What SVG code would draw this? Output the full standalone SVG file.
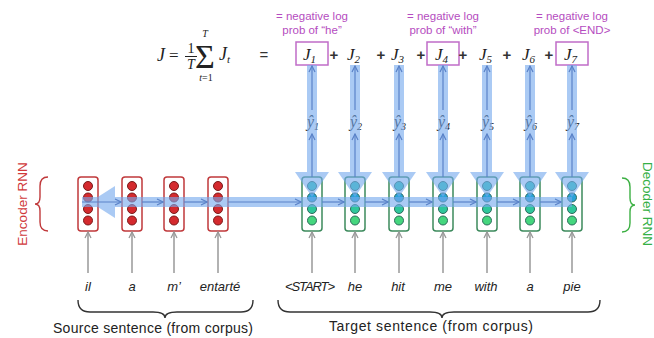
<svg xmlns="http://www.w3.org/2000/svg" width="654" height="338" viewBox="0 0 654 338">
<defs>
<style>
.sans{font-family:"Liberation Sans","Open Sans",Arial,sans-serif}
.math{font-family:"Liberation Serif","DejaVu Serif",serif;font-style:italic;fill:#222}
.mathr{font-family:"Liberation Serif","DejaVu Serif",serif;fill:#222}
.mag{font-family:"Liberation Sans","Open Sans",Arial,sans-serif;font-size:11.5px;fill:#b54cc0;text-anchor:middle}
.word{font-family:"Liberation Sans","Open Sans",Arial,sans-serif;font-style:italic;font-size:13px;fill:#222;text-anchor:middle}
.enc{fill:none;stroke:#c0393b;stroke-width:1.5}
.dec{fill:none;stroke:#3c8a5c;stroke-width:1.5}
.ec{fill:#d42a2e;stroke:#7a1a1a;stroke-width:1}
.dc{stroke:#2d6b5c;stroke-width:1}
.band{fill:#76a9ee;opacity:0.62}
.thin{stroke:#5a82c8;stroke-width:1.2;fill:none;marker-end:url(#ab)}
.gray{stroke:#999;stroke-width:1.5;fill:none;marker-end:url(#ag)}
.jbox{fill:none;stroke:#c06cc8;stroke-width:1.5}
.brace{fill:none;stroke:#333;stroke-width:1.4}
</style>
<marker id="ab" viewBox="0 0 8 8" refX="7" refY="4" markerWidth="8" markerHeight="8" orient="auto" markerUnits="userSpaceOnUse"><path d="M1,1 L7,4 L1,7" fill="none" stroke="#5a82c8" stroke-width="1.2"/></marker>
<marker id="ag" viewBox="0 0 8 8" refX="7" refY="4" markerWidth="8" markerHeight="8" orient="auto" markerUnits="userSpaceOnUse"><path d="M1,1 L7,4 L1,7" fill="none" stroke="#999" stroke-width="1.3"/></marker>
</defs>
<rect width="654" height="338" fill="#fff"/>

<!-- Equation -->
<g id="equation">
<text class="math" x="157" y="61" font-size="18">J</text>
<text class="mathr" x="169" y="61" font-size="17">=</text>
<text class="mathr" x="191" y="53" font-size="14" text-anchor="middle">1</text>
<line x1="185" y1="56.5" x2="197" y2="56.5" stroke="#222" stroke-width="1"/>
<text class="math" x="191" y="69" font-size="14" text-anchor="middle">T</text>
<text class="mathr" x="205" y="68" font-size="34" text-anchor="middle">Σ</text>
<text class="math" x="205" y="37" font-size="10" text-anchor="middle">T</text>
<text class="math" x="206" y="81" font-size="10" text-anchor="middle">t<tspan font-style="normal">=1</tspan></text>
<text class="math" x="219" y="60" font-size="18">J<tspan font-size="11" dy="3">t</tspan></text>
<text class="sans" x="264" y="60" font-size="15" text-anchor="middle" fill="#333">=</text>
</g>

<!-- J terms -->
<g id="J1"><rect class="jbox" x="296" y="42" width="32" height="23"/><text class="math" x="303" y="60" font-size="17">J<tspan font-size="11" dy="3">1</tspan></text></g>
<g id="J2"><text class="math" x="347" y="60" font-size="17">J<tspan font-size="11" dy="3">2</tspan></text></g>
<g id="J3"><text class="math" x="391" y="60" font-size="17">J<tspan font-size="11" dy="3">3</tspan></text></g>
<g id="J4"><rect class="jbox" x="427" y="42" width="32" height="23"/><text class="math" x="435" y="60" font-size="17">J<tspan font-size="11" dy="3">4</tspan></text></g>
<g id="J5"><text class="math" x="479" y="60" font-size="17">J<tspan font-size="11" dy="3">5</tspan></text></g>
<g id="J6"><text class="math" x="522" y="60" font-size="17">J<tspan font-size="11" dy="3">6</tspan></text></g>
<g id="J7"><rect class="jbox" x="556" y="42" width="32" height="23"/><text class="math" x="564" y="60" font-size="17">J<tspan font-size="11" dy="3">7</tspan></text></g>
<g id="plus" class="sans" font-size="15" font-weight="bold" fill="#333" text-anchor="middle">
<text x="334" y="60">+</text><text x="381" y="60">+</text><text x="421" y="60">+</text><text x="463" y="60">+</text><text x="507" y="60">+</text><text x="549" y="60">+</text>
</g>

<!-- magenta notes -->
<g id="note1"><text class="mag" x="312" y="20">= negative log</text><text class="mag" x="312" y="34">prob of “he”</text></g>
<g id="note4"><text class="mag" x="443" y="20">= negative log</text><text class="mag" x="443" y="34">prob of “with”</text></g>
<g id="note7"><text class="mag" x="572" y="20">= negative log</text><text class="mag" x="572" y="34">prob of &lt;END&gt;</text></g>

<!-- encoder cells -->
<g id="enc1"><rect class="enc" x="78" y="177" width="20" height="54" rx="3"/><circle class="ec" cx="88" cy="186" r="4.5"/><circle class="ec" cx="88" cy="197.5" r="4.5"/><circle class="ec" cx="88" cy="209" r="4.5"/><circle class="ec" cx="88" cy="220.5" r="4.5"/></g>
<g id="enc2"><rect class="enc" x="122" y="177" width="20" height="54" rx="3"/><circle class="ec" cx="132" cy="186" r="4.5"/><circle class="ec" cx="132" cy="197.5" r="4.5"/><circle class="ec" cx="132" cy="209" r="4.5"/><circle class="ec" cx="132" cy="220.5" r="4.5"/></g>
<g id="enc3"><rect class="enc" x="164" y="177" width="20" height="54" rx="3"/><circle class="ec" cx="174" cy="186" r="4.5"/><circle class="ec" cx="174" cy="197.5" r="4.5"/><circle class="ec" cx="174" cy="209" r="4.5"/><circle class="ec" cx="174" cy="220.5" r="4.5"/></g>
<g id="enc4"><rect class="enc" x="208" y="177" width="20" height="54" rx="3"/><circle class="ec" cx="218" cy="186" r="4.5"/><circle class="ec" cx="218" cy="197.5" r="4.5"/><circle class="ec" cx="218" cy="209" r="4.5"/><circle class="ec" cx="218" cy="220.5" r="4.5"/></g>

<!-- decoder cells -->
<g id="dec1"><rect class="dec" x="302" y="177" width="20" height="54" rx="3"/><circle class="dc" fill="#2ec4b6" cx="312" cy="186" r="4.5"/><circle class="dc" fill="#2aa3d8" cx="312" cy="197.5" r="4.5"/><circle class="dc" fill="#2fc79b" cx="312" cy="209" r="4.5"/><circle class="dc" fill="#45d67e" cx="312" cy="220.5" r="4.5"/></g>
<g id="dec2"><rect class="dec" x="345" y="177" width="20" height="54" rx="3"/><circle class="dc" fill="#2ec4b6" cx="355" cy="186" r="4.5"/><circle class="dc" fill="#2aa3d8" cx="355" cy="197.5" r="4.5"/><circle class="dc" fill="#2fc79b" cx="355" cy="209" r="4.5"/><circle class="dc" fill="#45d67e" cx="355" cy="220.5" r="4.5"/></g>
<g id="dec3"><rect class="dec" x="389" y="177" width="20" height="54" rx="3"/><circle class="dc" fill="#2ec4b6" cx="399" cy="186" r="4.5"/><circle class="dc" fill="#2aa3d8" cx="399" cy="197.5" r="4.5"/><circle class="dc" fill="#2fc79b" cx="399" cy="209" r="4.5"/><circle class="dc" fill="#45d67e" cx="399" cy="220.5" r="4.5"/></g>
<g id="dec4"><rect class="dec" x="433" y="177" width="20" height="54" rx="3"/><circle class="dc" fill="#2ec4b6" cx="443" cy="186" r="4.5"/><circle class="dc" fill="#2aa3d8" cx="443" cy="197.5" r="4.5"/><circle class="dc" fill="#2fc79b" cx="443" cy="209" r="4.5"/><circle class="dc" fill="#45d67e" cx="443" cy="220.5" r="4.5"/></g>
<g id="dec5"><rect class="dec" x="477" y="177" width="20" height="54" rx="3"/><circle class="dc" fill="#2ec4b6" cx="487" cy="186" r="4.5"/><circle class="dc" fill="#2aa3d8" cx="487" cy="197.5" r="4.5"/><circle class="dc" fill="#2fc79b" cx="487" cy="209" r="4.5"/><circle class="dc" fill="#45d67e" cx="487" cy="220.5" r="4.5"/></g>
<g id="dec6"><rect class="dec" x="520" y="177" width="20" height="54" rx="3"/><circle class="dc" fill="#2ec4b6" cx="530" cy="186" r="4.5"/><circle class="dc" fill="#2aa3d8" cx="530" cy="197.5" r="4.5"/><circle class="dc" fill="#2fc79b" cx="530" cy="209" r="4.5"/><circle class="dc" fill="#45d67e" cx="530" cy="220.5" r="4.5"/></g>
<g id="dec7"><rect class="dec" x="562" y="177" width="20" height="54" rx="3"/><circle class="dc" fill="#2ec4b6" cx="572" cy="186" r="4.5"/><circle class="dc" fill="#2aa3d8" cx="572" cy="197.5" r="4.5"/><circle class="dc" fill="#2fc79b" cx="572" cy="209" r="4.5"/><circle class="dc" fill="#45d67e" cx="572" cy="220.5" r="4.5"/></g>

<!-- y-hat labels -->
<g id="yhats" class="math" font-size="16">
<text x="307" y="127">ŷ<tspan font-size="10" dy="3">1</tspan></text>
<text x="350" y="127">ŷ<tspan font-size="10" dy="3">2</tspan></text>
<text x="394" y="127">ŷ<tspan font-size="10" dy="3">3</tspan></text>
<text x="438" y="127">ŷ<tspan font-size="10" dy="3">4</tspan></text>
<text x="482" y="127">ŷ<tspan font-size="10" dy="3">5</tspan></text>
<text x="525" y="127">ŷ<tspan font-size="10" dy="3">6</tspan></text>
<text x="567" y="127">ŷ<tspan font-size="10" dy="3">7</tspan></text>
</g>

<!-- connectors -->
<g id="connectors">
<path class="band" d="M82,197 H97.8 L115,186 V197 H572 V207 H115 V218 L97.8,207 H82 Z"/>
<path class="band" d="M307,65 H317 V172 H329 L312,197 L295,172 H307 Z"/>
<path class="band" d="M350,65 H360 V172 H372 L355,197 L338,172 H350 Z"/>
<path class="band" d="M394,65 H404 V172 H416 L399,197 L382,172 H394 Z"/>
<path class="band" d="M438,65 H448 V172 H460 L443,197 L426,172 H438 Z"/>
<path class="band" d="M482,65 H492 V172 H504 L487,197 L470,172 H482 Z"/>
<path class="band" d="M525,65 H535 V172 H547 L530,197 L513,172 H525 Z"/>
<path class="band" d="M567,65 H577 V172 H589 L572,197 L555,172 H567 Z"/>
<line class="thin" x1="82" y1="202" x2="121" y2="202"/>
<line class="thin" x1="142" y1="202" x2="163" y2="202"/>
<line class="thin" x1="184" y1="202" x2="207" y2="202"/>
<line class="thin" x1="228" y1="202" x2="301" y2="202"/>
<line class="thin" x1="322" y1="202" x2="344" y2="202"/>
<line class="thin" x1="365" y1="202" x2="388" y2="202"/>
<line class="thin" x1="409" y1="202" x2="432" y2="202"/>
<line class="thin" x1="453" y1="202" x2="476" y2="202"/>
<line class="thin" x1="497" y1="202" x2="519" y2="202"/>
<line class="thin" x1="540" y1="202" x2="561" y2="202"/>
<line class="thin" x1="312" y1="177" x2="312" y2="134"/><line class="thin" x1="312" y1="110" x2="312" y2="66"/>
<line class="thin" x1="355" y1="177" x2="355" y2="134"/><line class="thin" x1="355" y1="110" x2="355" y2="66"/>
<line class="thin" x1="399" y1="177" x2="399" y2="134"/><line class="thin" x1="399" y1="110" x2="399" y2="66"/>
<line class="thin" x1="443" y1="177" x2="443" y2="134"/><line class="thin" x1="443" y1="110" x2="443" y2="66"/>
<line class="thin" x1="487" y1="177" x2="487" y2="134"/><line class="thin" x1="487" y1="110" x2="487" y2="66"/>
<line class="thin" x1="530" y1="177" x2="530" y2="134"/><line class="thin" x1="530" y1="110" x2="530" y2="66"/>
<line class="thin" x1="572" y1="177" x2="572" y2="134"/><line class="thin" x1="572" y1="110" x2="572" y2="66"/>
<line class="gray" x1="88" y1="273" x2="88" y2="232"/>
<line class="gray" x1="132" y1="273" x2="132" y2="232"/>
<line class="gray" x1="174" y1="273" x2="174" y2="232"/>
<line class="gray" x1="218" y1="273" x2="218" y2="232"/>
<line class="gray" x1="312" y1="273" x2="312" y2="232"/>
<line class="gray" x1="355" y1="273" x2="355" y2="232"/>
<line class="gray" x1="399" y1="273" x2="399" y2="232"/>
<line class="gray" x1="443" y1="273" x2="443" y2="232"/>
<line class="gray" x1="487" y1="273" x2="487" y2="232"/>
<line class="gray" x1="530" y1="273" x2="530" y2="232"/>
<line class="gray" x1="572" y1="273" x2="572" y2="232"/>
</g>

<!-- words -->
<g id="words">
<text class="word" x="88" y="291">il</text>
<text class="word" x="132" y="291">a</text>
<text class="word" x="174" y="291">m’</text>
<text class="word" x="220" y="291">entarté</text>
<text class="word" x="310" y="291" textLength="50">&lt;START&gt;</text>
<text class="word" x="355" y="291">he</text>
<text class="word" x="398" y="291">hit</text>
<text class="word" x="443" y="291">me</text>
<text class="word" x="486" y="291">with</text>
<text class="word" x="530" y="291">a</text>
<text class="word" x="572" y="291">pie</text>
</g>

<g id="source">
<path class="brace" d="M78,300 Q78,312 90,312 H153 Q165,312 165,318 Q165,312 177,312 H241 Q253,312 253,300"/>
<text class="sans" x="153" y="333" font-size="14" text-anchor="middle" fill="#222" textLength="200">Source sentence (from corpus)</text>
</g>
<g id="target">
<path class="brace" d="M278,300 Q278,312 290,312 H430 Q442,312 442,318 Q442,312 454,312 H588 Q600,312 600,300"/>
<text class="sans" x="431" y="331" font-size="14" text-anchor="middle" fill="#222" textLength="204">Target sentence (from corpus)</text>
</g>
<g id="encoder-label">
<path d="M48,177 Q40,177 40,186 V197 Q40,204 35,204 Q40,204 40,211 V222 Q40,231 48,231" fill="none" stroke="#c0393b" stroke-width="1.4"/>
<text class="sans" transform="translate(27,204) rotate(-90)" font-size="13.5" text-anchor="middle" fill="#d0393b">Encoder RNN</text>
</g>
<g id="decoder-label">
<path d="M622,178 Q630,178 630,187 V198 Q630,205 635,205 Q630,205 630,212 V223 Q630,232 622,232" fill="none" stroke="#3cb043" stroke-width="1.4"/>
<text class="sans" transform="translate(643,204) rotate(90)" font-size="13.5" text-anchor="middle" fill="#35b045">Decoder RNN</text>
</g>
</svg>
